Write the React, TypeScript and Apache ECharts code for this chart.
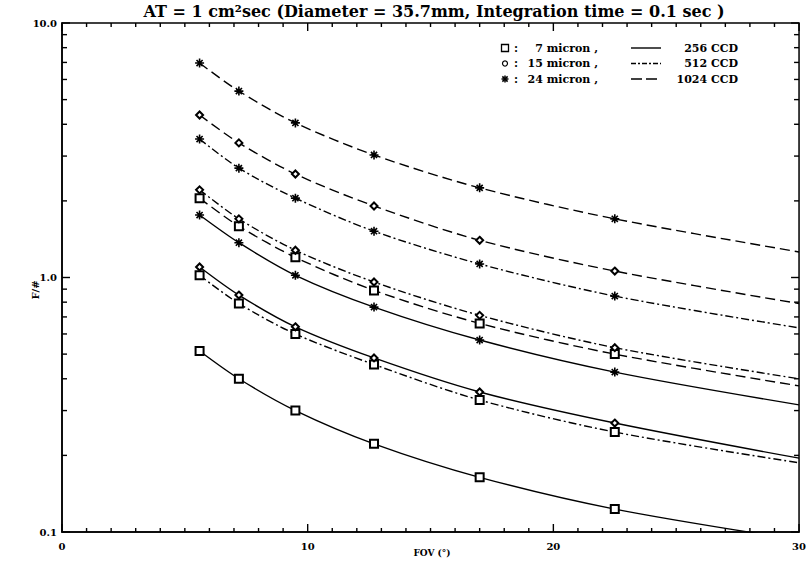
import React, { useEffect, useRef } from "react";
import * as echarts from "echarts";

// FOV (degrees) at which the curves are sampled; last one is the curve end (no marker)
const fov = [5.6, 7.2, 9.5, 12.7, 17.0, 22.5, 30];

// F/# values, per pixel size (micron) and CCD size
const s7_256 = [0.514, 0.40, 0.30, 0.222, 0.164, 0.123, 0.093];
const s7_512 = [1.02, 0.79, 0.60, 0.455, 0.33, 0.247, 0.187];
const s7_1024 = [2.05, 1.59, 1.20, 0.89, 0.66, 0.50, 0.375];
const s15_256 = [1.10, 0.853, 0.64, 0.483, 0.355, 0.268, 0.195];
const s15_512 = [2.21, 1.70, 1.28, 0.96, 0.71, 0.53, 0.40];
const s15_1024 = [4.35, 3.38, 2.55, 1.91, 1.40, 1.06, 0.79];
const s24_256 = [1.76, 1.37, 1.02, 0.765, 0.568, 0.425, 0.316];
const s24_512 = [3.50, 2.69, 2.05, 1.52, 1.13, 0.845, 0.634];
const s24_1024 = [6.96, 5.40, 4.05, 3.03, 2.25, 1.70, 1.26];

// tick positions
const xTickValues = [0, 1, 2, 3, 4, 5, 6, 7, 8, 9, 10, 11, 12, 13, 14, 15, 16, 17, 18, 19, 20, 21, 22, 23, 24, 25, 26, 27, 28, 29, 30];
const xMajorTicks = [0, 10, 20, 30];
const yMajorTicks = [0.1, 1, 10];
const yTickValues = [0.1, 0.2, 0.3, 0.4, 0.5, 0.6, 0.7, 0.8, 0.9, 1, 2, 3, 4, 5, 6, 7, 8, 9, 10];

const TITLE = "AT = 1 cm\u00B2sec (Diameter = 35.7mm, Integration time = 0.1 sec )";
const X_NAME = "FOV (\u00B0)";
const Y_NAME = "F/#";
const legendRows = [
  { mark: "square", micron: "7 micron ,", dash: "solid", ccd: "256 CCD" },
  { mark: "circle", micron: "15 micron ,", dash: "dashdot", ccd: "512 CCD" },
  { mark: "asterisk", micron: "24 micron ,", dash: "dashed", ccd: "1024 CCD" },
];

const FONT = '"DejaVu Serif", serif';
const ASTERISK = "path://M5,0L5,10M0,5L10,5M1.6,1.6L8.4,8.4M1.6,8.4L8.4,1.6";

function dashOf(d: string): any {
  if (d === "dashed") return [10, 5];
  if (d === "dashdot") return [8, 3, 2, 3];
  return "solid";
}

function mk(name: string, values: number[], dash: string, mark: string): any {
  const symbol = mark === "square" ? "emptyRect" : mark === "diamond" ? "emptyDiamond" : ASTERISK;
  const size = mark === "square" ? 8 : mark === "diamond" ? 7 : 9;
  return {
    type: "line",
    name,
    smooth: 0.3,
    clip: true,
    symbol,
    symbolSize: size,
    showAllSymbol: true,
    data: fov.map((x, i) =>
      i === fov.length - 1 ? { value: [x, values[i]], symbol: "none" } : [x, values[i]]
    ),
    lineStyle: { color: "#000", width: 1.4, type: dashOf(dash) },
    itemStyle: { color: "#000", borderColor: "#000", borderWidth: mark === "asterisk" ? 1.6 : 1.3 },
    emphasis: { disabled: true },
  };
}

function legendGraphics(): any[] {
  const els: any[] = [];
  const y0 = 48;
  const dy = 15.5;
  legendRows.forEach((r, i) => {
    const y = y0 + i * dy;
    const mx = 505;
    if (r.mark === "square") {
      els.push({ type: "rect", shape: { x: mx - 3.5, y: y - 3.5, width: 7, height: 7 }, style: { fill: "#fff", stroke: "#000", lineWidth: 1.3 } });
    } else if (r.mark === "circle") {
      els.push({ type: "circle", shape: { cx: mx, cy: y, r: 2.5 }, style: { fill: "#fff", stroke: "#000", lineWidth: 1.2 } });
    } else {
      const s = 3.5;
      [[-s, 0, s, 0], [0, -s, 0, s], [-s * 0.75, -s * 0.75, s * 0.75, s * 0.75], [-s * 0.75, s * 0.75, s * 0.75, -s * 0.75]].forEach((p) =>
        els.push({ type: "line", shape: { x1: mx + p[0], y1: y + p[1], x2: mx + p[2], y2: y + p[3] }, style: { stroke: "#000", lineWidth: 1.5 } })
      );
    }
    els.push({ type: "text", x: 514, y, style: { text: ":", font: `bold 11px ${FONT}`, fill: "#000", textVerticalAlign: "middle" } });
    els.push({ type: "text", x: 598, y, style: { text: r.micron, font: `bold 11px ${FONT}`, fill: "#000", textAlign: "right", textVerticalAlign: "middle" } });
    const seg: any = { type: "line", shape: { x1: 631, y1: y, x2: 661, y2: y }, style: { stroke: "#000", lineWidth: 1.4 } };
    if (r.dash === "dashed") seg.style.lineDash = [11, 4];
    if (r.dash === "dashdot") seg.style.lineDash = [5, 2, 2, 2];
    els.push(seg);
    els.push({ type: "text", x: 738, y, style: { text: r.ccd, font: `bold 11px ${FONT}`, fill: "#000", textAlign: "right", textVerticalAlign: "middle" } });
  });
  return els;
}

const tickStyle = { stroke: "#000", lineWidth: 1.4 };

// ticks along bottom and top edges, placed through the axes' own scales
const xTickSeries: any = {
  type: "custom",
  coordinateSystem: "cartesian2d",
  silent: true,
  clip: false,
  z: 5,
  data: xTickValues.map((v) => [v, 1]),
  encode: { x: 0, y: 1 },
  renderItem: (params: any, api: any) => {
    const v = api.value(0);
    const len = xMajorTicks.indexOf(v) >= 0 ? 8 : 4;
    const top = api.coord([v, 10]);
    const bot = api.coord([v, 0.1]);
    return {
      type: "group",
      children: [
        { type: "line", shape: { x1: top[0], y1: top[1], x2: top[0], y2: top[1] + len }, style: tickStyle },
        { type: "line", shape: { x1: bot[0], y1: bot[1], x2: bot[0], y2: bot[1] - len }, style: tickStyle },
      ],
    };
  },
};

// ticks along left and right edges
const yTickSeries: any = {
  type: "custom",
  coordinateSystem: "cartesian2d",
  silent: true,
  clip: false,
  z: 5,
  data: yTickValues.map((v) => [15, v]),
  encode: { x: 0, y: 1 },
  renderItem: (params: any, api: any) => {
    const v = api.value(1);
    const len = yMajorTicks.some((m) => Math.abs(m - v) < 1e-9) ? 8 : 5;
    const left = api.coord([0, v]);
    const right = api.coord([30, v]);
    return {
      type: "group",
      children: [
        { type: "line", shape: { x1: left[0], y1: left[1], x2: left[0] + len, y2: left[1] }, style: tickStyle },
        { type: "line", shape: { x1: right[0], y1: right[1], x2: right[0] - len, y2: right[1] }, style: tickStyle },
      ],
    };
  },
};

export default function App() {
  const ref = useRef<HTMLDivElement>(null);
  useEffect(() => {
    if (!ref.current) return;
    const chart = echarts.init(ref.current, undefined, { renderer: "svg" });
    const option: any = {
      animation: false,
      grid: { left: 62, right: 6, top: 23, bottom: 35, show: true, borderColor: "#000", borderWidth: 1.5, backgroundColor: "transparent" },
      xAxis: {
        type: "value",
        min: 0,
        max: 30,
        interval: 10,
        axisLine: { show: true, onZero: false, lineStyle: { color: "#000", width: 1.5 } },
        splitLine: { show: false },
        axisTick: { show: false },
        minorTick: { show: false },
        axisLabel: { show: true, color: "#000", fontFamily: FONT, fontWeight: "bold", fontSize: 10, margin: 9 },
      },
      yAxis: {
        type: "log",
        min: 0.1,
        max: 10,
        axisLine: { show: true, onZero: false, lineStyle: { color: "#000", width: 1.5 } },
        splitLine: { show: false },
        axisTick: { show: false },
        minorTick: { show: false },
        axisLabel: { show: true, customValues: yMajorTicks.slice(), color: "#000", fontFamily: FONT, fontWeight: "bold", fontSize: 10, margin: 5, formatter: (v: number) => v.toFixed(1) },
      },
      series: [
        mk("7 micron, 256 CCD", s7_256, "solid", "square"),
        mk("7 micron, 512 CCD", s7_512, "dashdot", "square"),
        mk("7 micron, 1024 CCD", s7_1024, "dashed", "square"),
        mk("15 micron, 256 CCD", s15_256, "solid", "diamond"),
        mk("15 micron, 512 CCD", s15_512, "dashdot", "diamond"),
        mk("15 micron, 1024 CCD", s15_1024, "dashed", "diamond"),
        mk("24 micron, 256 CCD", s24_256, "solid", "asterisk"),
        mk("24 micron, 512 CCD", s24_512, "dashdot", "asterisk"),
        mk("24 micron, 1024 CCD", s24_1024, "dashed", "asterisk"),
        xTickSeries,
        yTickSeries,
      ],
      graphic: [
        {
          type: "text",
          x: 434,
          y: 11,
          style: { text: TITLE, font: `bold 16px ${FONT}`, fill: "#000", textAlign: "center", textVerticalAlign: "middle" },
        },
        {
          type: "text",
          x: 432,
          y: 553,
          style: { text: X_NAME, font: `bold 9px ${FONT}`, fill: "#000", textAlign: "center", textVerticalAlign: "middle" },
        },
        {
          type: "text",
          x: 35,
          y: 290,
          rotation: Math.PI / 2,
          style: { text: Y_NAME, font: `bold 10px ${FONT}`, fill: "#000", textAlign: "center", textVerticalAlign: "middle" },
        },
        ...legendGraphics(),
      ],
    };
    chart.setOption(option);
    return () => chart.dispose();
  }, []);
  return <div ref={ref} style={{ position: "fixed", left: 0, top: 0, width: 809, height: 567, background: "#fff" }} />;
}
